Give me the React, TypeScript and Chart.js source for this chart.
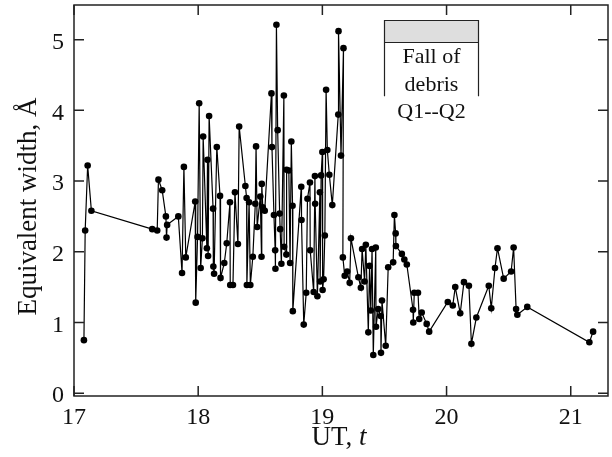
import React, { useEffect, useRef } from "react";
import { Chart, registerables } from "chart.js";

Chart.register(...registerables);

// UT hours
const times: number[] = [
  17.08, 17.09, 17.11, 17.14, 17.63, 17.67, 17.68, 17.71, 17.74, 17.745, 17.75,
  17.84, 17.87, 17.885, 17.9, 17.976, 17.98, 17.995, 18.008, 18.02, 18.034, 18.04,
  18.07, 18.075, 18.08, 18.088, 18.12, 18.122, 18.128, 18.15, 18.176, 18.18, 18.21,
  18.23, 18.256, 18.258, 18.28, 18.296, 18.32, 18.33, 18.38, 18.39, 18.392, 18.41,
  18.42, 18.44, 18.46, 18.466, 18.475, 18.5, 18.51, 18.512, 18.52, 18.536, 18.59,
  18.594, 18.61, 18.62, 18.622, 18.63, 18.64, 18.656, 18.66, 18.67, 18.69, 18.692,
  18.71, 18.712, 18.73, 18.74, 18.75, 18.76, 18.762, 18.83, 18.832, 18.85, 18.87,
  18.88, 18.9, 18.902, 18.93, 18.94, 18.942, 18.96, 18.98, 18.982, 18.99, 19.0,
  19.002, 19.01, 19.02, 19.03, 19.04, 19.056, 19.08, 19.128, 19.13, 19.15, 19.17,
  19.165, 19.18, 19.2, 19.22, 19.23, 19.29, 19.31, 19.32, 19.34, 19.35, 19.37,
  19.38, 19.39, 19.4, 19.41, 19.43, 19.432, 19.45, 19.47, 19.472, 19.48, 19.51,
  19.53, 19.57, 19.58, 19.59, 19.592, 19.64, 19.66, 19.68, 19.73, 19.732, 19.74,
  19.77, 19.78, 19.8, 19.84, 19.86, 20.01, 20.05, 20.07, 20.11, 20.14, 20.18,
  20.2, 20.24, 20.34, 20.36, 20.39, 20.41, 20.46, 20.52, 20.54, 20.56, 20.57,
  20.65, 21.15, 21.18,
];

// Equivalent width, Å
const widths: number[] = [
  0.75, 2.3, 3.22, 2.58, 2.32, 2.3, 3.02, 2.87, 2.5, 2.2, 2.38,
  2.5, 1.7, 3.2, 1.92, 2.71, 1.28, 2.21, 4.1, 1.77, 2.19, 3.63,
  2.05, 3.3, 1.94, 3.92, 2.61, 1.79, 1.69, 3.48, 2.79, 1.63, 1.84,
  2.12, 2.7, 1.53, 1.53, 2.84, 2.11, 3.77, 2.93, 2.76, 1.53, 2.7,
  1.53, 1.93, 2.68, 3.49, 2.35, 2.78, 1.93, 2.96, 2.63, 2.58, 4.24,
  3.48, 2.52, 2.02, 1.76, 5.21, 3.72, 2.54, 2.32, 1.83, 4.21, 2.07,
  1.96, 3.16, 3.15, 1.84, 3.56, 2.65, 1.16, 2.92, 2.45, 0.97, 1.42,
  2.75, 2.98, 2.02, 1.43, 3.07, 2.68, 1.37, 2.84, 1.58, 3.08, 3.41,
  1.46, 1.61, 2.23, 4.29, 3.44, 3.09, 2.66, 3.94, 5.12, 3.36, 4.88,
  1.92, 1.66, 1.72, 1.56, 2.19, 1.64, 1.49, 2.04, 1.58, 2.1, 0.86,
  1.8, 1.17, 2.04, 0.54, 2.06, 0.94, 1.19, 1.09, 0.57, 1.31, 0.67,
  1.78, 1.85, 2.52, 2.26, 2.08, 1.97, 1.89, 1.82, 1.18, 1.0, 1.42,
  1.42, 1.05, 1.14, 0.98, 0.87, 1.29, 1.24, 1.5, 1.13, 1.57, 1.52,
  0.7, 1.07, 1.52, 1.2, 1.77, 2.05, 1.62, 1.72, 2.06, 1.19, 1.11,
  1.22, 0.72, 0.87,
];

const xTickValues: number[] = [17, 18, 19, 20, 21];
const yTickValues: number[] = [0, 1, 2, 3, 4, 5];

const debrisStart = 19.5;
const debrisEnd = 20.25;
const debrisBoxTop = 5.28;
const debrisBoxBottom = 4.97;
const debrisLinesBottom = 4.2;
const debrisLabel: string[] = ["Fall of", "debris", "Q1--Q2"];

const xTitleMain = "UT, ";
const xTitleItalic = "t";
const yTitle = "Equivalent width, Å";

const FONT = "'Liberation Serif', 'Times New Roman', Times, serif";

const framePlugin = {
  id: "framePlugin",
  afterDatasetsDraw(chart: any) {
    const { ctx, chartArea: a, scales } = chart;
    const x = scales.x;
    const y = scales.y;
    ctx.save();

    // annotation box
    const x0 = Math.round(x.getPixelForValue(debrisStart)) + 0.5;
    const x1 = Math.round(x.getPixelForValue(debrisEnd)) + 0.5;
    const yt = Math.round(y.getPixelForValue(debrisBoxTop)) + 0.5;
    const ym = Math.round(y.getPixelForValue(debrisBoxBottom)) + 0.5;
    const yb = y.getPixelForValue(debrisLinesBottom);
    ctx.fillStyle = "#dedede";
    ctx.fillRect(x0, yt, x1 - x0, ym - yt);
    ctx.strokeStyle = "#222";
    ctx.lineWidth = 1.2;
    ctx.beginPath();
    ctx.moveTo(x0, yb);
    ctx.lineTo(x0, yt);
    ctx.lineTo(x1, yt);
    ctx.lineTo(x1, yb);
    ctx.moveTo(x0, ym);
    ctx.lineTo(x1, ym);
    ctx.stroke();

    ctx.fillStyle = "#111";
    ctx.font = `22px ${FONT}`;
    ctx.textAlign = "center";
    ctx.textBaseline = "middle";
    const cx = (x0 + x1) / 2;
    debrisLabel.forEach((t, i) => {
      ctx.fillText(t, cx, ym + 15 + i * 27.5);
    });

    // frame
    ctx.strokeStyle = "#222";
    ctx.lineWidth = 1.5;
    ctx.strokeRect(a.left, a.top, a.right - a.left, a.bottom - a.top);

    // inward ticks
    const tl = 10;
    ctx.lineWidth = 1.5;
    ctx.beginPath();
    xTickValues.forEach((v) => {
      const px = x.getPixelForValue(v);
      ctx.moveTo(px, a.bottom);
      ctx.lineTo(px, a.bottom - tl);
      ctx.moveTo(px, a.top);
      ctx.lineTo(px, a.top + tl);
    });
    yTickValues.forEach((v) => {
      const py = y.getPixelForValue(v);
      ctx.moveTo(a.left, py);
      ctx.lineTo(a.left + tl, py);
      ctx.moveTo(a.right, py);
      ctx.lineTo(a.right - tl, py);
    });
    ctx.stroke();

    // x title with italic t
    ctx.fillStyle = "#111";
    ctx.textBaseline = "middle";
    ctx.textAlign = "left";
    ctx.font = `27px ${FONT}`;
    const w1 = ctx.measureText(xTitleMain).width;
    ctx.font = `italic 27px ${FONT}`;
    const w2 = ctx.measureText(xTitleItalic).width;
    const startX = (a.left + a.right) / 2 - (w1 + w2) / 2 - 2;
    const ty = 438;
    ctx.font = `27px ${FONT}`;
    ctx.fillText(xTitleMain, startX, ty);
    ctx.font = `italic 27px ${FONT}`;
    ctx.fillText(xTitleItalic, startX + w1, ty);

    // y title
    ctx.save();
    ctx.translate(29, (a.top + a.bottom) / 2 + 6);
    ctx.rotate(-Math.PI / 2);
    ctx.textAlign = "center";
    ctx.textBaseline = "middle";
    ctx.font = `27px ${FONT}`;
    ctx.fillText(yTitle, 0, 0);
    ctx.restore();

    ctx.restore();
  },
};

export default function App() {
  const canvasRef = useRef<HTMLCanvasElement | null>(null);

  useEffect(() => {
    if (!canvasRef.current) return;
    const points = times.map((t, i) => ({ x: t, y: widths[i] }));
    const chart = new Chart(canvasRef.current, {
      type: "scatter",
      data: {
        datasets: [
          {
            data: points,
            showLine: true,
            borderColor: "#000",
            borderWidth: 1.2,
            pointRadius: 3.3,
            pointBackgroundColor: "#000",
            pointBorderColor: "#000",
            pointBorderWidth: 0,
            tension: 0,
          },
        ],
      },
      options: {
        responsive: false,
        animation: false,
        layout: { padding: { top: 5, right: 1, left: 0, bottom: 0 } },
        plugins: {
          legend: { display: false },
          tooltip: { enabled: false },
        },
        scales: {
          x: {
            type: "linear",
            min: 17,
            max: 21.3,
            afterFit: (s: any) => {
              s.height = 61;
              s.paddingLeft = 0;
              s.paddingRight = 0;
            },
            afterBuildTicks: (s: any) => {
              s.ticks = xTickValues.map((v) => ({ value: v }));
            },
            grid: { display: false, drawTicks: false },
            border: { display: false },
            ticks: {
              font: { family: FONT, size: 24 },
              color: "#111",
              padding: 7,
              maxRotation: 0,
              autoSkip: false,
            },
          },
          y: {
            type: "linear",
            min: -0.04,
            max: 5.49,
            afterFit: (s: any) => {
              s.width = 74;
              s.paddingTop = 0;
              s.paddingBottom = 0;
            },
            afterBuildTicks: (s: any) => {
              s.ticks = yTickValues.map((v) => ({ value: v }));
            },
            grid: { display: false, drawTicks: false },
            border: { display: false },
            ticks: {
              font: { family: FONT, size: 24 },
              color: "#111",
              padding: 10,
              labelOffset: 3,
              autoSkip: false,
            },
          },
        },
      },
      plugins: [framePlugin],
    });
    return () => chart.destroy();
  }, []);

  return (
    <div style={{ position: "absolute", left: 0, top: 0, width: 612, height: 457 }}>
      <canvas ref={canvasRef} width={612} height={457} style={{ display: "block" }} />
    </div>
  );
}
